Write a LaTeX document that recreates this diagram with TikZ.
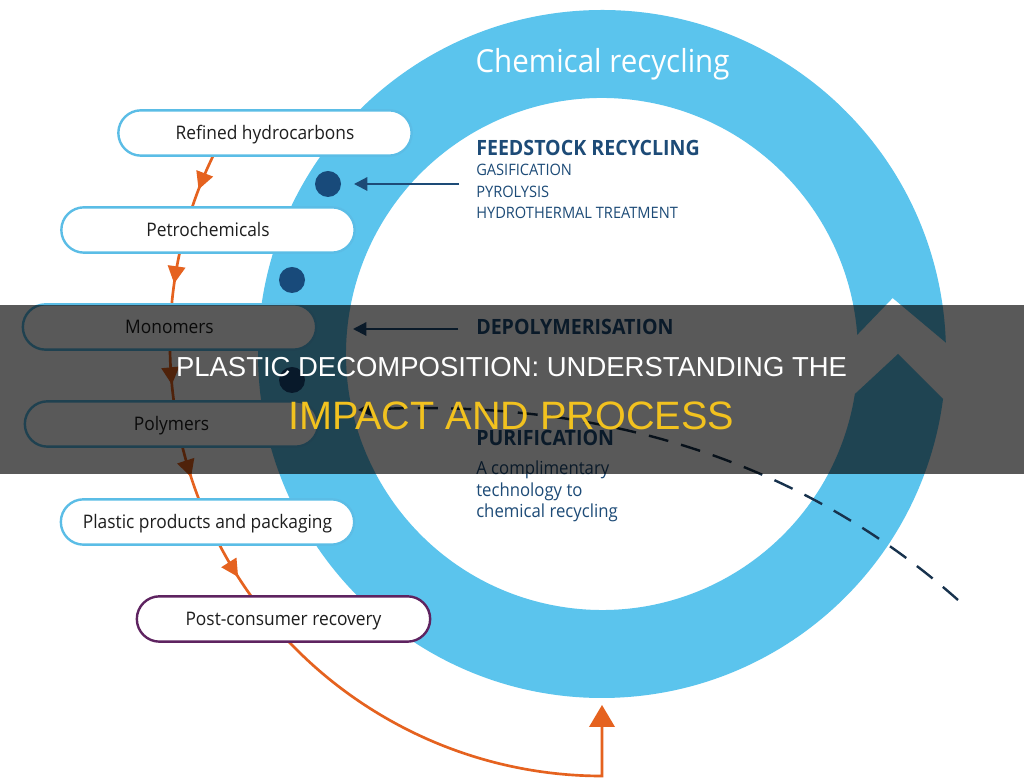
\documentclass[tikz,border=0pt]{standalone}
\usepackage{fontspec}
\setmainfont{Open Sans}[FakeStretch=0.93]
\newfontfamily\titlefont{Liberation Sans}
\usetikzlibrary{arrows.meta,decorations.markings}
\definecolor{ringblue}{HTML}{5BC4ED}
\definecolor{boxblue}{HTML}{5BBDE6}
\definecolor{navy}{HTML}{1D4B77}
\definecolor{dotnavy}{HTML}{184A7A}
\definecolor{orangeline}{HTML}{E5621F}
\definecolor{purpleline}{HTML}{5E2360}
\definecolor{titleyellow}{HTML}{F2C21F}
\definecolor{dashnavy}{HTML}{17324D}
\definecolor{boxtext}{HTML}{1E1E1E}
\tikzset{midarrow/.tip={Triangle[width=13pt,length=13pt]}}
\begin{document}
\begin{tikzpicture}[x=0.75pt,y=0.75pt,
  stagebox/.style={draw=boxblue, line width=1.8pt, fill=white, rounded corners=17pt,
    minimum width=220pt, minimum height=34pt, inner sep=0pt,
    font=\fontsize{14}{16}\selectfont, text=boxtext, text height=10pt, text depth=0pt},
  dotnode/.style={circle, fill=dotnavy, minimum size=19.5pt, inner sep=0pt},
  navyarrow/.style={draw=navy, line width=1.6pt, -{Triangle[width=10pt,length=10pt]}},
  headtext/.style={anchor=base west, inner sep=0pt, text=navy, font=\fontsize{15.8}{18}\selectfont\bfseries},
  listtext/.style={anchor=base west, inner sep=0pt, text=navy, font=\fontsize{11.8}{14}\selectfont},
  bodytext/.style={anchor=base west, inner sep=0pt, text=navy, font=\fontsize{13.5}{16}\selectfont}]
\useasboundingbox (0,0) rectangle (1024,780);
\fill[white] (0,0) rectangle (1024,780);

% ring arrow
\begin{scope}[shift={(602,426)}]
\fill[ringblue] (1.9:344) arc[start angle=1.9, end angle=352.5, radius=344]
  -- (0:296) -- (351:256) arc[start angle=351, end angle=4.3, radius=256]
  -- (10.9:296) -- cycle;
\end{scope}
\node[anchor=base, inner sep=0pt, text=white, font=\fontsize{23.8}{28}\selectfont] (chem) at (602.5,707) {Chemical recycling};

% orange flow
\begin{scope}[shift={(602,436)}]
\coordinate (ostart) at (151.8:432);
\coordinate (otip) at (0,-361);
\draw[orangeline, line width=2pt, -{Triangle[width=19pt,length=16.5pt]},
  postaction={decorate},
  decoration={markings,
    mark=at position 41pt with {\arrow{midarrow}},
    mark=at position 114pt with {\arrow{midarrow}},
    mark=at position 190pt with {\arrow{midarrow}},
    mark=at position 261pt with {\arrow{midarrow}},
    mark=at position 344pt with {\arrow{midarrow}}}]
  (ostart) arc[start angle=151.8, end angle=270, radius=432] -- (otip);
\end{scope}

% dashed purification line
\coordinate (dstart) at (958,180);
\coordinate (dend) at (358,370);
\draw[dashnavy, line width=1.8pt, dash pattern=on 15pt off 10pt, -{Triangle[width=10pt,length=10pt]}]
  (dstart) .. controls (800,320) and (600,382) .. (dend);

% dots and arrows
\node[dotnode] (d1) at (328,596) {};
\node[dotnode] (d2) at (292,500) {};
\node[dotnode] (d3) at (292,400) {};
\coordinate (a1) at (459,596);
\coordinate (a1t) at (354,596);
\coordinate (a2) at (458,451);
\coordinate (a2t) at (353,451);
\draw[navyarrow] (a1) -- (a1t);
\draw[navyarrow] (a2) -- (a2t);

% boxes
\node[stagebox] (b1) at (265,647) {Refined hydrocarbons};
\node[stagebox] (b2) at (208,550) {Petrochemicals};
\node[stagebox] (b3) at (169.5,453) {Monomers};
\node[stagebox] (b4) at (171.5,356) {Polymers};
\node[stagebox] (b5) at (207.5,258) {Plastic products and packaging};
\node[stagebox, draw=purpleline] (b6) at (283.5,161) {Post-consumer recovery};

% texts inside ring
\node[headtext] (fr) at (476,624) {FEEDSTOCK RECYCLING};
\node[listtext] (gas) at (476,604.3) {GASIFICATION};
\node[listtext] (pyr) at (476,582.3) {PYROLYSIS};
\node[listtext] (hyd) at (476,561.7) {HYDROTHERMAL TREATMENT};
\node[headtext] (dep) at (476,445) {DEPOLYMERISATION};
\node[headtext] (pur) at (476,334) {PURIFICATION};
\node[bodytext] (c1) at (476,305) {A complimentary};
\node[bodytext] (c2) at (476,283) {technology to};
\node[bodytext] (c3) at (476,262) {chemical recycling};

% overlay banner
\fill[black, opacity=0.65] (0,306) rectangle (1024,475);
\node[anchor=base, inner sep=0pt, text=white, font=\titlefont\fontsize{20.6}{24}\selectfont] (t1) at (511.5,403) {PLASTIC DECOMPOSITION: UNDERSTANDING THE};
\node[anchor=base, inner sep=0pt, text=titleyellow, font=\titlefont\fontsize{29.7}{34}\selectfont] (t2) at (511,350) {IMPACT AND PROCESS};
\end{tikzpicture}
\end{document}
